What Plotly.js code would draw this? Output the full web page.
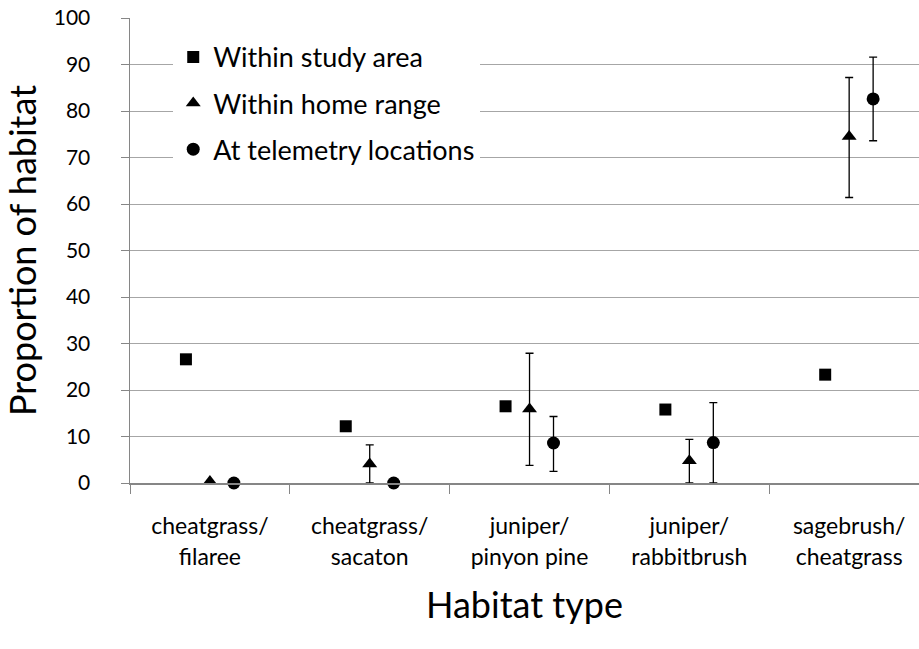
<!DOCTYPE html>
<html>
<head>
<meta charset="utf-8">
<script src="https://cdn.plot.ly/plotly-3.0.1.min.js"></script>
<style>html,body{margin:0;padding:0;background:#fff;overflow:hidden}</style>
</head>
<body>
<div id="chart" style="width:919px;height:649px"></div>
<script>
// Categories (two-line tick labels)
const catLine1 = ["cheatgrass/", "cheatgrass/", "juniper/", "juniper/", "sagebrush/"];
const catLine2 = ["filaree", "sacaton", "pinyon pine", "rabbitbrush", "cheatgrass"];

// Series values (proportion of habitat, %)
const studyArea = [26.6, 12.2, 16.5, 15.8, 23.3];

const homeRange      = [0.3, 4.1, 15.9, 4.8, 74.5];
const homeRangeUpper = [0.3, 8.2, 27.9, 9.4, 87.2];
const homeRangeLower = [0.3, 0.0, 3.8, 0.0, 61.4];

const telemetry      = [0.0, 0.0, 8.6, 8.7, 82.6];
const telemetryUpper = [0.0, 0.0, 14.3, 17.3, 91.6];
const telemetryLower = [0.0, 0.0, 2.5, 0.0, 73.6];

const seriesNames = ["Within study area", "Within home range", "At telemetry locations"];
const yTicks = [0, 10, 20, 30, 40, 50, 60, 70, 80, 90, 100];

// positions
const idx = catLine1.map((_, i) => i);
const offset = 0.15;
const xRange = [-0.5, 4.437];
const boundaries = idx.map(i => i - 0.5).concat([idx.length - 0.5]);

const font = "Lato, 'Liberation Sans', sans-serif";
const gray = "#868686";

function err(vals, up, lo) {
  return {
    type: "data", symmetric: false,
    array: vals.map((v, i) => up[i] - v),
    arrayminus: vals.map((v, i) => v - lo[i]),
    color: "#000", thickness: 1.3, width: 4
  };
}

const traces = [
  {
    x: idx.map(i => i - offset), y: studyArea, name: seriesNames[0],
    type: "scatter", mode: "markers", cliponaxis: false, legendgroup: "a",
    marker: {symbol: "square", size: 12, color: "#000"}
  },
  {
    x: idx.map(i => i), y: homeRange, name: seriesNames[1],
    type: "scatter", mode: "markers", cliponaxis: false, legendgroup: "b",
    marker: {symbol: "triangle-up", size: 13, color: "#000"},
    error_y: err(homeRange, homeRangeUpper, homeRangeLower)
  },
  {
    x: idx.map(i => i + offset), y: telemetry, name: seriesNames[2],
    type: "scatter", mode: "markers", cliponaxis: false, legendgroup: "c",
    marker: {symbol: "circle", size: 13, color: "#000"},
    error_y: err(telemetry, telemetryUpper, telemetryLower)
  },
  // carriers so the overlay axes (second label line, boundary ticks) are drawn
  {x: [], y: [], xaxis: "x2", yaxis: "y", type: "scatter", mode: "markers", showlegend: false, hoverinfo: "skip"},
  {x: [], y: [], xaxis: "x3", yaxis: "y", type: "scatter", mode: "markers", showlegend: false, hoverinfo: "skip"}
];

const layout = {
  width: 919, height: 649,
  margin: {l: 130, r: 0, t: 18, b: 166},
  paper_bgcolor: "#fff", plot_bgcolor: "#fff",
  font: {family: font, color: "#000"},
  showlegend: true,
  legend: {
    x: 0.0548, y: 0.968, xanchor: "left", yanchor: "top",
    bgcolor: "#fff", borderwidth: 0,
    font: {family: font, size: 27, color: "#000"},
    traceorder: "grouped", tracegroupgap: 8
  },
  xaxis: {
    type: "linear", range: xRange, fixedrange: true,
    tickvals: idx, ticktext: catLine1, ticks: "",
    tickfont: {family: font, size: 23, color: "#000"},
    ticklabelstandoff: 22,
    showgrid: false, zeroline: false,
    showline: true, linecolor: gray, linewidth: 1.5,
    title: {text: "Habitat type", font: {family: font, size: 36, color: "#000"}, standoff: 54}
  },
  xaxis2: {
    type: "linear", range: xRange, overlaying: "x", anchor: "y", side: "bottom", fixedrange: true,
    tickvals: idx, ticktext: catLine2, ticks: "",
    tickfont: {family: font, size: 23, color: "#000"},
    ticklabelstandoff: 58,
    showgrid: false, zeroline: false, showline: false
  },
  xaxis3: {
    type: "linear", range: xRange, overlaying: "x", anchor: "y", side: "bottom", fixedrange: true,
    tickvals: boundaries, ticks: "outside", ticklen: 10, tickwidth: 1, tickcolor: gray,
    showticklabels: false, showgrid: false, zeroline: false, showline: false
  },
  yaxis: {
    range: [0, 100], fixedrange: true,
    tickvals: yTicks, ticks: "outside", ticklen: 8, tickwidth: 1, tickcolor: gray,
    tickfont: {family: font, size: 21, color: "#000"},
    ticklabelstandoff: 26,
    showgrid: true, gridcolor: "#a6a6a6", gridwidth: 1,
    zeroline: false, showline: true, linecolor: gray, linewidth: 1.5,
    title: {text: "Proportion of habitat", font: {family: font, size: 36, color: "#000"}, standoff: 7}
  }
};

Plotly.newPlot("chart", traces, layout, {displayModeBar: false, staticPlot: true});
</script>
</body>
</html>
